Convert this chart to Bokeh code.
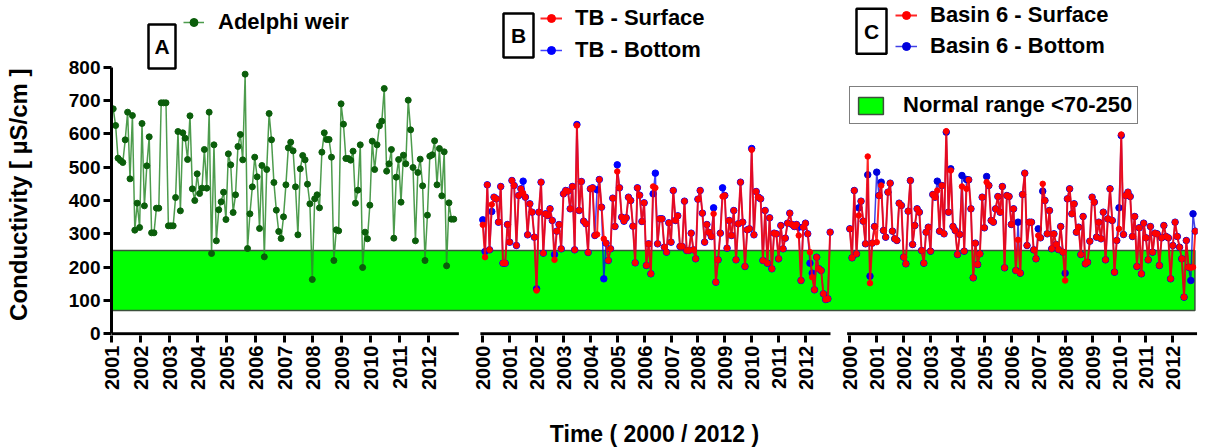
import math
from bokeh.plotting import figure
from bokeh.models import Range1d, FixedTicker, Legend, LegendItem
from bokeh.core.properties import value
from bokeh.embed import file_html
from bokeh.resources import INLINE

FONT = "Liberation Sans"

# ---------------- data ----------------
years_a = list(range(2001, 2013))
years_bc = list(range(2000, 2013))
y_ticks = list(range(0, 801, 100))
normal_low, normal_high = 70, 250

adelphi = [
    675, 625, 527, 520, 514, 582, 665, 465, 655, 311,
    392, 319, 631, 384, 504, 591, 303, 303, 377, 377,
    693, 693, 693, 324, 324, 324, 409, 607, 369, 603,
    587, 523, 654, 435, 400, 480, 421, 437, 553, 437,
    665, 241, 567, 279, 372, 396, 425, 343, 540, 507,
    364, 417, 562, 598, 522, 779, 256, 360, 441, 530,
    471, 316, 505, 231, 493, 661, 582, 454, 371, 307, 286,
    351, 447, 558, 575, 549, 441, 297, 495, 535, 522,
    449, 390, 163, 405, 417, 378, 545, 603, 583, 583,
    530, 220, 312, 309, 690, 629, 526, 526, 521, 548,
    392, 431, 567, 199, 305, 285, 386, 578, 493, 567,
    624, 638, 736, 488, 510, 553, 287, 470, 523, 395,
    536, 510, 701, 612, 499, 279, 484, 524, 444, 220,
    356, 533, 537, 579, 447, 556, 414, 546, 204, 393,
    344, 344,
]

tb_surface = [
    327, 230, 447, 252, 388, 410, 405, 335, 442, 212,
    212, 328, 275, 460, 445, 265, 415, 435, 422, 410,
    297, 390, 365, 290, 130, 365, 455, 242, 360, 355,
    375, 340, 222, 308, 328, 255, 420, 430, 428, 375,
    442, 252, 625, 370, 457, 338, 330, 244, 435, 438,
    295, 298, 463, 380, 285, 272, 220, 255, 407, 322,
    487, 438, 350, 338, 348, 410, 400, 323, 213, 438,
    416, 337, 393, 205, 270, 180, 442, 438, 270, 345,
    345, 260, 245, 333, 275, 430, 340, 354, 262, 262,
    398, 250, 250, 302, 252, 225, 404, 430, 362, 275,
    328, 304, 292, 360, 155, 222, 302, 412, 415, 257,
    340, 295, 370, 222, 330, 455, 335, 202, 312, 315,
    552, 297, 427, 410, 405, 220, 370, 212, 348, 195,
    302, 300, 225, 325, 255, 287, 332, 362, 328, 322,
    328, 295, 160, 320, 332, 300, 245, 170, 132, 230,
    195, 190, 120, 103, 105, 305,
]

tb_bottom = [
    342, 247, 447, 252, 367, 410, 405, 335, 442, 212,
    212, 328, 275, 460, 445, 265, 415, 435, 458, 410,
    297, 390, 365, 290, 135, 365, 455, 242, 360, 355,
    375, 340, 238, 308, 328, 255, 420, 430, 428, 375,
    442, 252, 628, 370, 457, 338, 330, 244, 435, 438,
    295, 432, 463, 380, 165, 272, 220, 255, 407, 322,
    507, 438, 350, 338, 348, 410, 400, 323, 213, 438,
    416, 337, 393, 205, 270, 180, 420, 482, 270, 345,
    345, 260, 245, 333, 275, 430, 340, 354, 262, 262,
    398, 250, 250, 302, 252, 225, 404, 430, 362, 275,
    328, 304, 292, 378, 155, 222, 302, 438, 415, 257,
    340, 295, 370, 222, 330, 455, 335, 202, 312, 315,
    556, 297, 427, 410, 405, 220, 370, 212, 348, 195,
    302, 300, 225, 325, 255, 287, 332, 362, 328, 322,
    328, 320, 160, 320, 332, 300, 212, 182, 132, 230,
    195, 190, 120, 103, 105, 305,
]

b6_surface = [
    315, 228, 430, 240, 355, 398, 338, 270, 532, 152,
    272, 322, 275, 415, 445, 310, 290, 425, 452, 308,
    285, 280, 392, 385, 230, 210, 368, 460, 268, 325,
    375, 365, 250, 212, 305, 320, 248, 418, 410, 430,
    308, 445, 300, 608, 365, 490, 322, 310, 238, 298,
    442, 248, 435, 462, 375, 168, 272, 208, 240, 410,
    318, 455, 445, 340, 335, 375, 412, 365, 442, 198,
    415, 412, 328, 375, 190, 282, 182, 418, 482, 265,
    335, 335, 252, 225, 295, 288, 450, 400, 300, 370,
    255, 300, 268, 253, 322, 245, 160, 405, 435, 360,
    390, 305, 320, 238, 352, 210, 215, 278, 410, 395,
    290, 335, 285, 365, 222, 345, 435, 340, 185, 280,
    315, 598, 298, 415, 425, 412, 292, 352, 202, 318,
    180, 332, 288, 222, 322, 245, 302, 300, 205, 288,
    325, 292, 288, 165, 265, 335, 292, 260, 225, 110,
    280, 200, 198, 200, 308,
]

b6_bottom = [
    315, 228, 430, 240, 378, 398, 338, 270, 477, 173,
    272, 322, 485, 415, 455, 310, 290, 425, 452, 308,
    285, 280, 392, 385, 230, 210, 368, 460, 268, 325,
    375, 365, 250, 212, 305, 320, 248, 418, 410, 458,
    308, 445, 300, 605, 365, 495, 322, 310, 238, 298,
    475, 248, 463, 462, 375, 168, 272, 208, 240, 410,
    318, 472, 445, 340, 335, 375, 412, 365, 442, 198,
    415, 412, 328, 375, 190, 335, 182, 418, 482, 265,
    335, 335, 252, 225, 315, 288, 428, 400, 300, 370,
    255, 300, 268, 253, 322, 245, 182, 405, 435, 360,
    390, 305, 320, 238, 352, 210, 215, 278, 410, 395,
    290, 335, 285, 365, 222, 345, 435, 340, 185, 280,
    378, 595, 298, 415, 425, 412, 292, 352, 202, 318,
    180, 332, 288, 222, 322, 245, 302, 300, 205, 288,
    325, 292, 288, 165, 265, 335, 292, 260, 225, 110,
    280, 200, 160, 360, 308,
]


def monthly(start, n):
    return [start + i / 12 for i in range(n)]


x_a = monthly(2001.06, len(adelphi))
x_b = monthly(2000.0, len(tb_surface))
x_c = monthly(2000.0, len(b6_surface))

# ---------------- layout geometry ----------------
FW = 1086          # frame width (px)
FH = 335           # frame height (px)
SCALE_A, SCALE_B, SCALE_C = 28.78, 26.89, 26.92   # px per year in each panel
ORIG_A, ORIG_B, ORIG_C = 0.0, 371.3, 738.3        # frame px of first year tick

rng_a = Range1d(2001 - ORIG_A / SCALE_A, 2001 - ORIG_A / SCALE_A + FW / SCALE_A)
rng_b = Range1d(2000 - ORIG_B / SCALE_B, 2000 - ORIG_B / SCALE_B + FW / SCALE_B)
rng_c = Range1d(2000 - ORIG_C / SCALE_C, 2000 - ORIG_C / SCALE_C + FW / SCALE_C)

p = figure(frame_width=FW, frame_height=FH, x_range=Range1d(0, FW), y_range=Range1d(-5, 1000),
           output_backend="svg", toolbar_location=None,
           min_border_left=111, min_border_right=8, min_border_top=0, min_border_bottom=112)
p.extra_x_ranges = {"a": rng_a, "b": rng_b, "c": rng_c}
p.grid.visible = False
p.outline_line_color = None
p.background_fill_color = "white"
p.border_fill_color = "white"


def to_px(year, rng):
    return int(round((year - rng.start) * FW / (rng.end - rng.start)))


tick_px, overrides = [], {}
for yr in years_a:
    t = to_px(yr, rng_a)
    tick_px.append(t)
    overrides[t] = str(yr)
for rng in (rng_b, rng_c):
    for yr in years_bc:
        t = to_px(yr, rng)
        tick_px.append(t)
        overrides[t] = str(yr)

# ---------------- normal range band ----------------
band = p.quad(left=[1900], right=[2012.82], bottom=[normal_low], top=[normal_high],
              x_range_name="c", fill_color="#00ff00", line_color="#3c503c", line_width=1.5)

# ---------------- broken x axis lines ----------------
for name, lo, hi in (("a", 2001.0, 2013.07), ("b", 1999.91, 2012.93), ("c", 1999.90, 2012.90)):
    p.segment(x0=[lo], y0=[0], x1=[hi], y1=[0], x_range_name=name,
              line_color="black", line_width=3, line_cap="butt")

# ---------------- series ----------------
la = p.line(x_a, adelphi, x_range_name="a", line_color="#2e8b2e", line_width=1.5, line_alpha=0.85)
sa = p.scatter(x_a, adelphi, x_range_name="a", size=6, fill_color="#0b5e0b", line_color="#0b5e0b")

lbb = p.line(x_b, tb_bottom, x_range_name="b", line_color="#0000ff", line_width=1.5, line_alpha=0.75)
sbb = p.scatter(x_b, tb_bottom, x_range_name="b", size=6.5, fill_color="#0000ff", line_color="#0000ff")
lbs = p.line(x_b, tb_surface, x_range_name="b", line_color="#ff0000", line_width=2, line_alpha=0.85)
sbs = p.scatter(x_b, tb_surface, x_range_name="b", size=5.5, fill_color="#ff0000", line_color="#ff0000")

lcb = p.line(x_c, b6_bottom, x_range_name="c", line_color="#0000dd", line_width=1.5, line_alpha=0.75)
scb = p.scatter(x_c, b6_bottom, x_range_name="c", size=6.5, fill_color="#0000dd", line_color="#0000dd")
lcs = p.line(x_c, b6_surface, x_range_name="c", line_color="#ff0000", line_width=2, line_alpha=0.85)
scs = p.scatter(x_c, b6_surface, x_range_name="c", size=5.5, fill_color="#ff0000", line_color="#ff0000")

# ---------------- axes ----------------
xa = p.xaxis[0]
xa.ticker = FixedTicker(ticks=tick_px)
xa.major_label_overrides = overrides
xa.major_label_orientation = math.pi / 2
xa.major_label_text_font = FONT
xa.major_label_text_font_style = "bold"
xa.major_label_text_font_size = "20px"
xa.major_label_text_color = "black"
xa.axis_line_color = None
xa.major_tick_line_width = 3
xa.major_tick_line_color = "black"
xa.major_tick_out = 7
xa.major_tick_in = 0
xa.minor_tick_line_color = None
xa.major_label_standoff = 3
xa.axis_label = "Time ( 2000 / 2012 )"
xa.axis_label_text_font = FONT
xa.axis_label_text_font_style = "bold"
xa.axis_label_text_font_size = "23px"
xa.axis_label_text_color = "black"
xa.axis_label_standoff = 28

ya = p.yaxis[0]
ya.ticker = FixedTicker(ticks=y_ticks)
ya.bounds = (0, 800)
ya.major_label_text_font = FONT
ya.major_label_text_font_style = "bold"
ya.major_label_text_font_size = "19px"
ya.major_label_text_color = "black"
ya.axis_line_width = 3
ya.axis_line_color = "black"
ya.major_tick_line_width = 3
ya.major_tick_out = 8
ya.major_tick_in = 0
ya.minor_tick_line_color = None
ya.major_label_standoff = 3
# label is centred on the frame; trailing no-break spaces move the visible text down
ya.axis_label = "Conductivity [ µS/cm ]" + "\u00a0" * 8
ya.axis_label_text_font = FONT
ya.axis_label_text_font_style = "bold"
ya.axis_label_text_font_size = "24px"
ya.axis_label_text_color = "black"
ya.axis_label_standoff = 34


# ---------------- legends ----------------
def legend(items, loc, **kw):
    base = dict(location=loc, orientation="vertical", padding=0, margin=0, spacing=7,
                glyph_width=22, glyph_height=20, label_standoff=13,
                label_text_font=FONT, label_text_font_style="bold",
                label_text_font_size="22px", label_text_color="black",
                border_line_color=None, background_fill_alpha=0)
    base.update(kw)
    return Legend(items=items, **base)


p.add_layout(legend([LegendItem(label="Adelphi weir", renderers=[la, sa])], (72, 300),
                    glyph_width=21, label_standoff=14))
p.add_layout(legend([LegendItem(label="TB - Surface", renderers=[lbs, sbs]),
                     LegendItem(label="TB - Bottom", renderers=[lbb, sbb])], (429, 272),
                    spacing=6))
p.add_layout(legend([LegendItem(label="Basin 6 - Surface", renderers=[lcs, scs]),
                     LegendItem(label="Basin 6 - Bottom", renderers=[lcb, scb])], (784, 276),
                    spacing=5))
p.add_layout(legend([LegendItem(label="Normal range <70-250", renderers=[band])], (738, 211),
                    padding=5, glyph_width=31, glyph_height=21, label_standoff=17,
                    border_line_color="black", border_line_width=1.5,
                    background_fill_color="white", background_fill_alpha=1.0))


# ---------------- panel letters ----------------
def panel_box(x, y, w, h, letter):
    p.rect(x=[x], y=[y], width=w, height=h, width_units="screen", height_units="screen",
           fill_color=None, line_color="black", line_width=2.5)
    p.text(x=[x], y=[y], text=[letter], text_align="center", text_baseline="middle",
           text_font=value(FONT), text_font_style="bold", text_font_size="21px",
           text_color="black")


panel_box(50.5, 862, 27, 44, "A")
panel_box(407, 895, 30, 44, "B")
panel_box(760, 908, 30, 45, "C")

open("out.html", "w").write(file_html(p, INLINE))
